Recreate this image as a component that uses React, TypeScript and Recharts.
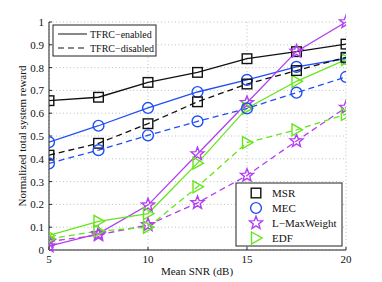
import React from "react";
import { LineChart, Line, XAxis, YAxis, CartesianGrid } from "recharts";

const snr = [5, 7.5, 10, 12.5, 15, 17.5, 20];
const msrOn = [0.655, 0.67, 0.735, 0.779, 0.839, 0.87, 0.903];
const msrOff = [0.416, 0.468, 0.554, 0.65, 0.728, 0.787, 0.845];
const mecOn = [0.473, 0.545, 0.623, 0.693, 0.746, 0.803, 0.84];
const mecOff = [0.38, 0.438, 0.503, 0.564, 0.621, 0.69, 0.759];
const lmwOn = [0.017, 0.072, 0.197, 0.421, 0.646, 0.871, 1.0];
const lmwOff = [0.037, 0.066, 0.11, 0.207, 0.327, 0.478, 0.625];
const edfOn = [0.064, 0.126, 0.16, 0.381, 0.622, 0.74, 0.835];
const edfOff = [0.049, 0.083, 0.1, 0.277, 0.471, 0.527, 0.595];

const xTicks = [5, 10, 15, 20];
const yTicks = [0, 0.1, 0.2, 0.3, 0.4, 0.5, 0.6, 0.7, 0.8, 0.9, 1];

const rows = snr.map((s, i) => ({
  snr: s,
  msrOn: msrOn[i],
  msrOff: msrOff[i],
  mecOn: mecOn[i],
  mecOff: mecOff[i],
  lmwOn: lmwOn[i],
  lmwOff: lmwOff[i],
  edfOn: edfOn[i],
  edfOff: edfOff[i],
}));

const BLACK = "#111111";
const BLUE = "#1f4ff5";
const PURPLE = "#b23ef0";
const GREEN = "#66e51c";
const SERIF = "Liberation Serif, Times New Roman, Tinos, Nimbus Roman, DejaVu Serif, serif";

type MK = "square" | "circle" | "star" | "tri";

function markerEl(kind: MK, cx: number, cy: number, color: string, key?: string) {
  const sw = 1.4;
  if (kind === "square") {
    return <rect key={key} x={cx - 4.8} y={cy - 4.8} width={9.6} height={9.6} fill="none" stroke={color} strokeWidth={sw} />;
  }
  if (kind === "circle") {
    return <circle key={key} cx={cx} cy={cy} r={5.4} fill="none" stroke={color} strokeWidth={sw} />;
  }
  if (kind === "star") {
    const pts: string[] = [];
    for (let k = 0; k < 10; k++) {
      const r = k % 2 === 0 ? 6.8 : 2.9;
      const a = -Math.PI / 2 + (k * Math.PI) / 5;
      pts.push(`${cx + r * Math.cos(a)},${cy + r * Math.sin(a)}`);
    }
    return <polygon key={key} points={pts.join(" ")} fill="none" stroke={color} strokeWidth={sw} />;
  }
  return (
    <polygon
      key={key}
      points={`${cx - 4.5},${cy - 6} ${cx + 6},${cy} ${cx - 4.5},${cy + 6}`}
      fill="none"
      stroke={color}
      strokeWidth={sw}
    />
  );
}

const makeDot = (kind: MK, color: string) => (p: any) => {
  if (p.cx == null || p.cy == null) return <g key={p.key} />;
  return markerEl(kind, p.cx, p.cy, color, p.key ?? `${kind}-${p.index}`);
};

const series: { key: string; color: string; kind: MK; dashed: boolean }[] = [
  { key: "msrOn", color: BLACK, kind: "square", dashed: false },
  { key: "mecOn", color: BLUE, kind: "circle", dashed: false },
  { key: "lmwOn", color: PURPLE, kind: "star", dashed: false },
  { key: "edfOn", color: GREEN, kind: "tri", dashed: false },
  { key: "msrOff", color: BLACK, kind: "square", dashed: true },
  { key: "mecOff", color: BLUE, kind: "circle", dashed: true },
  { key: "lmwOff", color: PURPLE, kind: "star", dashed: true },
  { key: "edfOff", color: GREEN, kind: "tri", dashed: true },
];

const legendItems: { label: string; color: string; kind: MK }[] = [
  { label: "MSR", color: BLACK, kind: "square" },
  { label: "MEC", color: BLUE, kind: "circle" },
  { label: "L\u2212MaxWeight", color: PURPLE, kind: "star" },
  { label: "EDF", color: GREEN, kind: "tri" },
];

const tickStyle = { fontSize: 11, fill: "#111", style: { fontFamily: SERIF } };

export default function App() {
  return (
    <div style={{ position: "absolute", left: 0, top: 0, width: 382, height: 282, background: "#fff", fontFamily: SERIF }}>
      <LineChart width={382} height={282} data={rows} margin={{ top: 22, right: 36, bottom: 12, left: 9 }} style={{ fontFamily: SERIF }}>
        <CartesianGrid stroke="#b0b0b0" strokeDasharray="1 2.5" strokeWidth={0.8} />
        <XAxis
          dataKey="snr"
          type="number"
          domain={[5, 20]}
          ticks={xTicks}
          allowDataOverflow
          height={20}
          tickSize={-3}
          tickMargin={8}
          stroke="#222"
          tick={tickStyle}
          interval={0}
        />
        <XAxis
          xAxisId="top"
          dataKey="snr"
          type="number"
          orientation="top"
          domain={[5, 20]}
          ticks={xTicks}
          height={0}
          tickSize={-3}
          tick={false}
          stroke="#222"
        />
        <YAxis
          type="number"
          domain={[0, 1]}
          ticks={yTicks}
          width={40}
          tickSize={-3}
          tickMargin={8}
          stroke="#222"
          tick={tickStyle}
          interval={0}
          tickFormatter={(v: number) => (v === 0 ? "0" : v === 1 ? "1" : v.toFixed(1))}
        />
        <YAxis
          yAxisId="right"
          type="number"
          orientation="right"
          domain={[0, 1]}
          ticks={yTicks}
          width={0}
          tickSize={-3}
          tick={false}
          stroke="#222"
        />
        {series.map((s) => (
          <Line
            key={s.key}
            dataKey={s.key}
            type="linear"
            stroke={s.color}
            strokeWidth={1.3}
            strokeDasharray={s.dashed ? "6 4" : undefined}
            dot={makeDot(s.kind, s.color)}
            activeDot={false}
            isAnimationActive={false}
          />
        ))}
      </LineChart>
      <svg
        width={382}
        height={282}
        style={{ position: "absolute", left: 0, top: 0, pointerEvents: "none", fontFamily: SERIF }}
      >
        <text
          x={0}
          y={0}
          transform="translate(26,136) rotate(-90)"
          textAnchor="middle"
          fontSize={11}
          fill="#111"
        >
          Normalized total system reward
        </text>
        <text x={197} y={275} textAnchor="middle" fontSize={11} fill="#111">
          Mean SNR (dB)
        </text>
        <rect x={53} y={25} width={103} height={31} fill="#fff" stroke="#222" strokeWidth={1} />
        <line x1={58} y1={34} x2={87} y2={34} stroke={BLACK} strokeWidth={1} />
        <line x1={58} y1={48} x2={87} y2={48} stroke={BLACK} strokeWidth={1} strokeDasharray="6 4" />
        <text x={90} y={37.5} fontSize={10} fill="#111">TFRC{"\u2212"}enabled</text>
        <text x={90} y={51.5} fontSize={10} fill="#111">TFRC{"\u2212"}disabled</text>
        <rect x={236} y={183} width={106} height={63} fill="#fff" stroke="#222" strokeWidth={1} />
        {legendItems.map((it, i) => (
          <g key={it.label}>
            {markerEl(it.kind, 256, 193 + i * 15, it.color)}
            <text x={272} y={197 + i * 15} fontSize={11} fill="#111">
              {it.label}
            </text>
          </g>
        ))}
      </svg>
    </div>
  );
}
